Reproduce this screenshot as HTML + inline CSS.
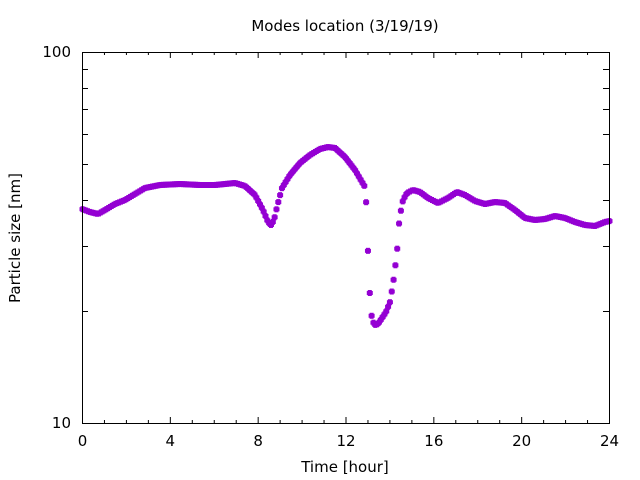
<!DOCTYPE html>
<html><head><meta charset="utf-8"><style>
html,body{margin:0;padding:0;background:#fff}
svg{display:block}
text{font-family:"DejaVu Sans","Liberation Sans",sans-serif;font-size:15px;fill:#000}
</style></head><body>
<svg id="s" width="640" height="480" xmlns="http://www.w3.org/2000/svg">
<text x="345" y="31" text-anchor="middle">Modes location (3/19/19)</text>
<text x="345" y="472" text-anchor="middle">Time [hour]</text>
<text transform="translate(20,238) rotate(-90)" text-anchor="middle">Particle size [nm]</text>
<text x="71" y="57" text-anchor="end">100</text>
<text x="71" y="428" text-anchor="end">10</text>
<g id="ax" stroke="#000" stroke-width="1" fill="none"></g>
<g id="pts" fill="#9400d3"></g>
<rect x="82.5" y="52.5" width="527" height="371" fill="none" stroke="#000"/>
</svg>
<script>
var NS="http://www.w3.org/2000/svg",ax=document.getElementById("ax"),s=document.getElementById("s");
function L(x1,y1,x2,y2){var l=document.createElementNS(NS,"line");l.setAttribute("x1",x1);l.setAttribute("y1",y1);l.setAttribute("x2",x2);l.setAttribute("y2",y2);ax.appendChild(l);}
function T(x,y,t){var e=document.createElementNS(NS,"text");e.setAttribute("x",x);e.setAttribute("y",y);e.setAttribute("text-anchor","middle");e.textContent=t;s.appendChild(e);}
for(var h=0;h<=24;h++){var x=82.5+h*527/24,len=(h%4==0)?6:3;L(x,423,x,423-len);L(x,52,x,52+len);if(h%4==0)T(x,446,h);}
for(var v=20;v<=90;v+=10){var y=Math.round(423-371*Math.log10(v/10))+0.5;L(82,y,88,y);L(609,y,603,y);}
var K=[[82,209],[90,212],[98,214],[105,210],[115,204],[125,200],[135,194],[145,188],[160,185],[180,184],[200,185],[215,185],[235,183],[245,186],[255,195],[263,210],[268,222],[271,225],[274,220],[277,207],[282,188],[290,175],[300,163],[310,155],[320,149],[328,147],[335,148],[345,157],[355,170],[362,182],[365,187],[366,199],[367,224],[369,280],[371,313],[373,322],[375,325],[378,324],[382,318],[386,312],[390,302],[392,290],[394,277],[397,252],[399,224],[401,210],[403,200],[407,193],[413,190],[420,192],[428,198],[438,203],[448,198],[457,192],[465,195],[475,201],[485,204],[495,202],[505,203],[515,210],[525,218],[535,220],[545,219],[555,216],[565,218],[575,222],[585,225],[595,226],[605,222],[610,221]];
var g=document.getElementById("pts"),out="";
for(var x=82.5;x<=609.5;x+=527/288){var i=0;while(i<K.length-2&&K[i+1][0]<x)i++;var a=K[i],b=K[i+1],t=(x-a[0])/(b[0]-a[0]);var y=a[1]+(b[1]-a[1])*t;
out+='<rect x="'+(x-3)+'" y="'+(y-2)+'" width="6" height="4"/><rect x="'+(x-2)+'" y="'+(y-3)+'" width="4" height="6"/>';}
g.innerHTML=out;
</script>
</body></html>
